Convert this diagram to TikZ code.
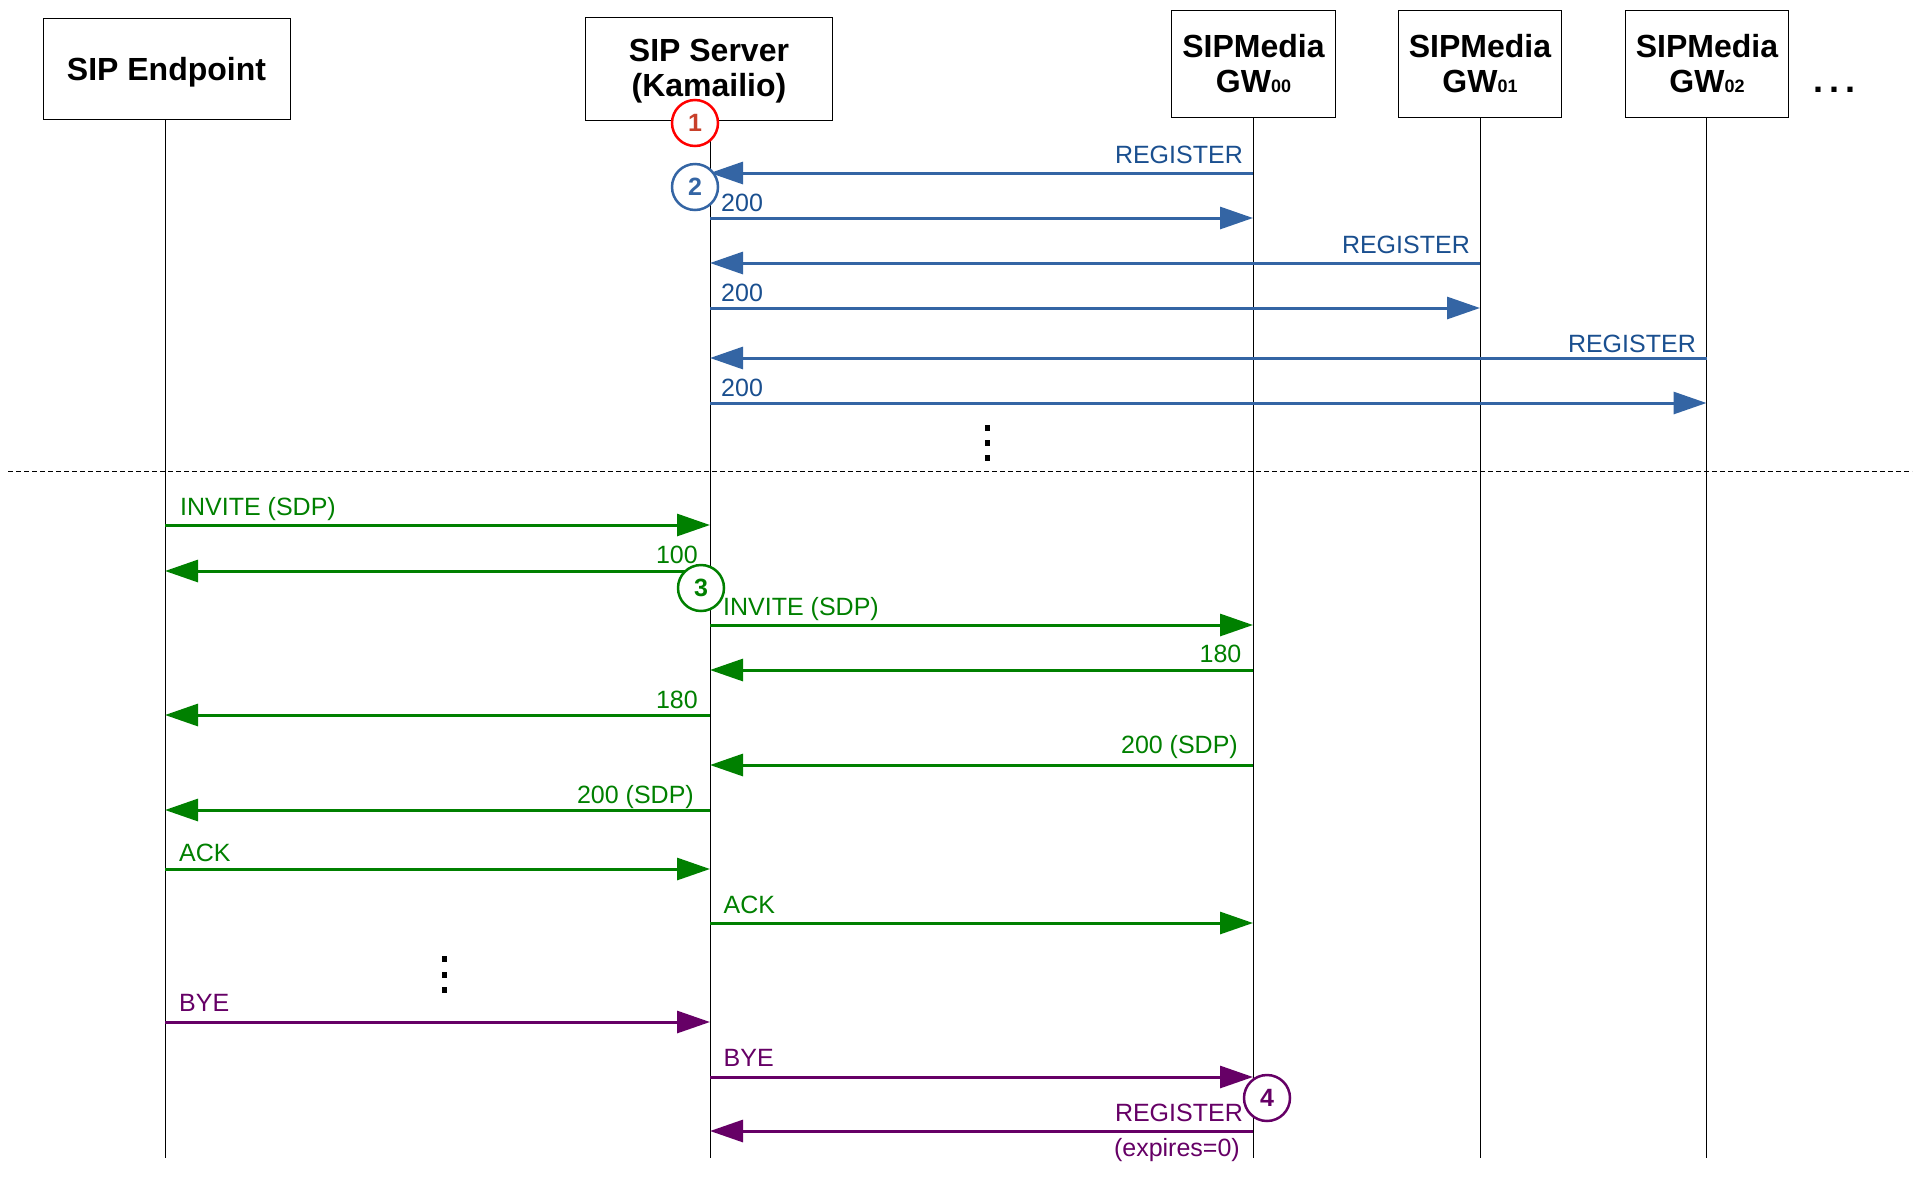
\documentclass[tikz,border=0pt]{standalone}
\usepackage{fontspec}
\setmainfont{Liberation Sans}
\usetikzlibrary{arrows.meta}
\definecolor{bl}{HTML}{3465A4}
\definecolor{blt}{HTML}{1A4F8F}
\definecolor{gr}{HTML}{008000}
\definecolor{pu}{HTML}{660066}
\definecolor{rd}{HTML}{FF0000}
\definecolor{rdt}{HTML}{C8402A}
\begin{document}
\begin{tikzpicture}[x=1pt,y=-1pt,
  hdr/.style={draw=black, line width=1pt, fill=white, inner sep=0pt},
  hdrtxt/.style={inner sep=0pt, font=\fontsize{32}{35}\selectfont\bfseries, align=center},
  life/.style={draw=black, line width=1pt},
  msg/.style={line width=3pt, -{Triangle[length=33pt,width=22pt]}},
  lbl/.style={font=\fontsize{25}{28}\selectfont, inner sep=0pt},
  num/.style={circle, draw, line width=2.5pt, fill=white, minimum size=46pt, inner sep=0pt, font=\fontsize{25}{25}\selectfont\bfseries},
  sq/.style={fill=black, minimum width=5pt, minimum height=6pt, inner sep=0pt}
]
\useasboundingbox (0,0) rectangle (1920,1176);
\fill[white] (0,0) rectangle (1920,1176);

% headers
\node[hdr, minimum width=247pt, minimum height=101pt] (ep) at (166.5,68.5) {};
\node[hdr, minimum width=247pt, minimum height=103pt] (srv) at (709,68.5) {};
\node[hdr, minimum width=164pt, minimum height=107pt] (gw0) at (1253.5,63.5) {};
\node[hdr, minimum width=163pt, minimum height=107pt] (gw1) at (1480,63.5) {};
\node[hdr, minimum width=163pt, minimum height=107pt] (gw2) at (1707,63.5) {};
\node[hdrtxt] (ept) at ([yshift=-3.5pt]ep.center) {SIP Endpoint};
\node[hdrtxt] (srvt) at ([yshift=-3pt]srv.center) {SIP Server\\(Kamailio)};
\node[hdrtxt] (gw0t) at (gw0.center) {SIPMedia\\GW{\fontsize{18}{18}\selectfont 00}};
\node[hdrtxt] (gw1t) at (gw1.center) {SIPMedia\\GW{\fontsize{18}{18}\selectfont 01}};
\node[hdrtxt] (gw2t) at (gw2.center) {SIPMedia\\GW{\fontsize{18}{18}\selectfont 02}};
\node[font=\fontsize{36}{36}\selectfont\bfseries, inner sep=0pt, anchor=base] (more) at (1834,92) {.\,.\,.};

% lifelines
\draw[life] (ep.south -| 165,0) -- (165,1158);
\draw[life] (srv.south -| 710,0) -- (710,1158);
\draw[life] (gw0.south -| 1253,0) -- (1253,1158);
\draw[life] (gw1.south) -- (gw1.south |- 0,1158);
\draw[life] (gw2.south -| 1706.5,0) -- (1706.5,1158);

% separator
\coordinate (sepL) at (8,471);
\coordinate (sepR) at (1912,471);
\draw[line width=1pt, dash pattern=on 5pt off 3pt] (sepL) -- (sepR);

% registration phase (blue)
\draw[msg,bl] (1253,173) -- (710,173);
\draw[msg,bl] (710,218) -- (1253,218);
\draw[msg,bl] (1480,263) -- (710,263);
\draw[msg,bl] (710,308) -- (1480,308);
\draw[msg,bl] (1706.5,358) -- (710,358);
\draw[msg,bl] (710,403) -- (1706.5,403);
\node[lbl,blt,anchor=base east] (r1) at (1243,163) {REGISTER};
\node[lbl,blt,anchor=base west] (o1) at (721,211) {200};
\node[lbl,blt,anchor=base east] (r2) at (1470,253) {REGISTER};
\node[lbl,blt,anchor=base west] (o2) at (721,301.5) {200};
\node[lbl,blt,anchor=base east] (r3) at (1696,352) {REGISTER};
\node[lbl,blt,anchor=base west] (o3) at (721,396.5) {200};
\node[sq] (d1) at (987.5,428) {};
\node[sq] (d2) at (987.5,443) {};
\node[sq] (d3) at (987.5,458) {};

% call setup (green)
\draw[msg,gr] (165,525) -- (710,525);
\draw[msg,gr] (710,571) -- (165,571);
\draw[msg,gr] (710,625) -- (1253,625);
\draw[msg,gr] (1253,670) -- (710,670);
\draw[msg,gr] (710,715) -- (165,715);
\draw[msg,gr] (1253,765) -- (710,765);
\draw[msg,gr] (710,810) -- (165,810);
\draw[msg,gr] (165,869) -- (710,869);
\draw[msg,gr] (710,923) -- (1253,923);
\node[lbl,gr,anchor=base west] (g1) at (180,515.5) {INVITE (SDP)};
\node[lbl,gr,anchor=base east] (g2) at (698,563) {100};
\node[lbl,gr,anchor=base west] (g3) at (723,615) {INVITE (SDP)};
\node[lbl,gr,anchor=base east] (g4) at (1241.5,662.5) {180};
\node[lbl,gr,anchor=base east] (g5) at (698,708) {180};
\node[lbl,gr,anchor=base east] (g6) at (1238,753) {200 (SDP)};
\node[lbl,gr,anchor=base east] (g7) at (694,803) {200 (SDP)};
\node[lbl,gr,anchor=base west] (g8) at (179,861) {ACK};
\node[lbl,gr,anchor=base west] (g9) at (723.5,913) {ACK};
\node[sq] (e1) at (444,959) {};
\node[sq] (e2) at (444,974.5) {};
\node[sq] (e3) at (444,990) {};

% teardown (purple)
\draw[msg,pu] (165,1022) -- (710,1022);
\draw[msg,pu] (710,1077) -- (1253,1077);
\draw[msg,pu] (1253,1131) -- (710,1131);
\node[lbl,pu,anchor=base west] (p1) at (179,1011.5) {BYE};
\node[lbl,pu,anchor=base west] (p2) at (723.5,1066.5) {BYE};
\node[lbl,pu,anchor=base east] (p3) at (1243,1121) {REGISTER};
\node[lbl,pu,anchor=base east] (p4) at (1240,1156) {(expires=0)};

% step markers
\node[num,draw=rd,text=rdt] (n1) at (695,123) {1};
\node[num,draw=bl,text=bl] (n2) at (695,187) {2};
\node[num,draw=gr,text=gr] (n3) at (701,588) {3};
\node[num,draw=pu,text=pu] (n4) at (1267,1098) {4};
\end{tikzpicture}
\end{document}
